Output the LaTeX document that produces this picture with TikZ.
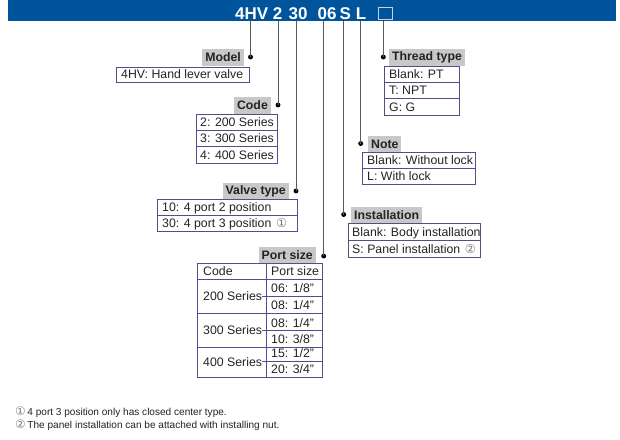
\documentclass[tikz,border=0pt]{standalone}
\usepackage{fontspec}
\setmainfont{Liberation Sans}
\newfontfamily\circfont{DejaVu Sans}

\definecolor{chartBanner}{RGB}{0,84,155}
\definecolor{chartBox}{RGB}{200,210,225}
\definecolor{chartLead}{RGB}{90,90,90}
\definecolor{chartTag}{RGB}{200,200,200}
\definecolor{chartBorder}{RGB}{84,76,140}
\definecolor{chartText}{RGB}{35,35,35}
\definecolor{chartMuted}{RGB}{120,120,120}

\begin{document}
\begin{tikzpicture}[x=.03cm,y=-.03cm,
      partno/.style={font=\bfseries\fontsize{14.5}{15}\selectfont,
        text=white, inner sep=0pt, anchor=base},
      tag/.style={fill=chartTag, font=\bfseries\fontsize{10.5}{12}\selectfont,
        text=chartText, inner xsep=2.5pt, inner ysep=0pt, minimum height=.51cm},
      entry/.style={font=\fontsize{10.5}{12}\selectfont, text=chartText,
        anchor=base west, inner sep=0pt},
      remark/.style={font=\fontsize{8.6}{10}\selectfont, text=chartText,
        anchor=west, inner sep=0pt},
      cell/.style={draw=chartBorder, line width=.6pt},
      lead/.style={draw=chartLead, line width=.75pt},
      pin/.style={circle, fill=black, inner sep=0pt, minimum size=4.2pt}]
      \useasboundingbox (0,0) rectangle (620,439);

      \fill[white] (0,0) rectangle (620,439);

      % part number banner
      \fill[chartBanner] (8,0) rectangle (616,21);
      \node[partno] (pnModel) at (251.7,19.2) {4HV};
      \node[partno] (pnSeries) at (277.5,19.2) {2};
      \node[partno] (pnValve) at (298,19.2) {30};
      \node[partno] (pnPort) at (327,19.2) {06};
      \node[partno] (pnMount) at (345.3,19.2) {S};
      \node[partno] (pnNote) at (361,19.2) {L};
      \node[draw=chartBox, line width=.6pt, minimum width=.42cm,
        minimum height=.36cm, inner sep=0pt] (pnThread) at (385,13.5) {};

      % leads from the banner down to the tags
      \foreach \name/\xx/\yy in {model/250.5/57,series/278/105,valve/296/191,
          port/323.7/256,mount/343.7/214.5,note/360.7/143.5,thread/383.3/57}{
        \coordinate (\name Top) at (\xx,21);
        \node[pin] (\name Pin) at (\xx,\yy) {};
        \draw[lead] (\name Top) -- (\name Pin.center);}

      \node[tag, anchor=east] (modelTag) at (244,57) {Model};
      \node[tag, anchor=east] (seriesTag) at (271,105) {Code};
      \node[tag, anchor=east] (valveTag) at (289,191) {Valve type};
      \node[tag, anchor=east] (portTag) at (316,255) {Port size};
      \node[tag, anchor=west] (mountTag) at (351,215) {Installation};
      \node[tag, anchor=west] (noteTag) at (368,144) {Note};
      \node[tag, anchor=west] (threadTag) at (389,57.5) {Thread type};

      % model
      \draw[cell] (116,67) rectangle (249,82);
      \node[entry] (model0) at (121,78.5) {4HV: Hand lever valve};

      % code
      \foreach \txt [count=\i from 0] in {2: 200 Series,3: 300 Series,
          4: 400 Series}{
        \draw[cell] (196,{114+16.3*\i}) rectangle ++(81,16.3);
        \node[entry] (series\i) at (200,{114+16.3*\i+12.6}) {\txt};}

      % valve type
      \foreach \txt [count=\i from 0] in {10: 4 port 2 position,
          {30: 4 port 3 position\hspace{4pt}{\circfont\color{chartMuted}①}}}{
        \draw[cell] (157,{199+16*\i}) rectangle ++(140,16);
        \node[entry] (valve\i) at (162,{199+16*\i+12.5}) {\txt};}

      % thread type
      \foreach \txt [count=\i from 0] in {Blank: PT,T: NPT,G: G}{
        \draw[cell] (384,{66+16.3*\i}) rectangle ++(75,16.3);
        \node[entry] (thread\i) at (389,{66+16.3*\i+12.6}) {\txt};}

      % note
      \foreach \txt [count=\i from 0] in {Blank: Without lock,L: With lock}{
        \draw[cell] (362,{152+16*\i}) rectangle ++(113,16);
        \node[entry] (note\i) at (367,{152+16*\i+12.5}) {\txt};}

      % installation
      \foreach \txt [count=\i from 0] in {Blank: Body installation,
          {S: Panel installation\hspace{4pt}{\circfont\color{chartMuted}②}}}{
        \draw[cell] (348,{223+17*\i}) rectangle ++(132,17);
        \node[entry] (mount\i) at (352,{223+17*\i+13}) {\txt};}

      % port size table
      \draw[cell] (197,263) rectangle (322,377);
      \draw[cell] (266,263) -- (266,377);
      \foreach \yy in {279,313,347}{
        \draw[cell] (197,\yy) -- (322,\yy);}
      \foreach \yy in {296,330.5,361}{
        \draw[cell] (262,\yy) -- (322,\yy);}
      \node[entry] (portHeadA) at (203,275.5) {Code};
      \node[entry] (portHeadB) at (271,275.5) {Port size};
      \foreach \yy/\txt [count=\i] in {300.5/200 Series,334.5/300 Series,
          366.5/400 Series}{
        \node[entry] (portSeries\i) at (203,\yy) {\txt};}
      \foreach \yy/\txt [count=\i] in {292.5/{06: 1/8"},309.5/{08: 1/4"},
          327/{08: 1/4"},343.5/{10: 3/8"},357.5/{15: 1/2"},373.5/{20: 3/4"}}{
        \node[entry] (portSize\i) at (271,\yy) {\txt};}

      % remarks
      \node[remark] (remarkOne) at (15,412)
        {{\circfont\fontsize{10}{10}\selectfont\color{chartMuted}①}\,4 port 3 position only has closed center type.};
      \node[remark] (remarkTwo) at (15,425.5)
        {{\circfont\fontsize{10}{10}\selectfont\color{chartMuted}②}\,The panel installation can be attached with installing nut.};
    \end{tikzpicture}
\end{document}
